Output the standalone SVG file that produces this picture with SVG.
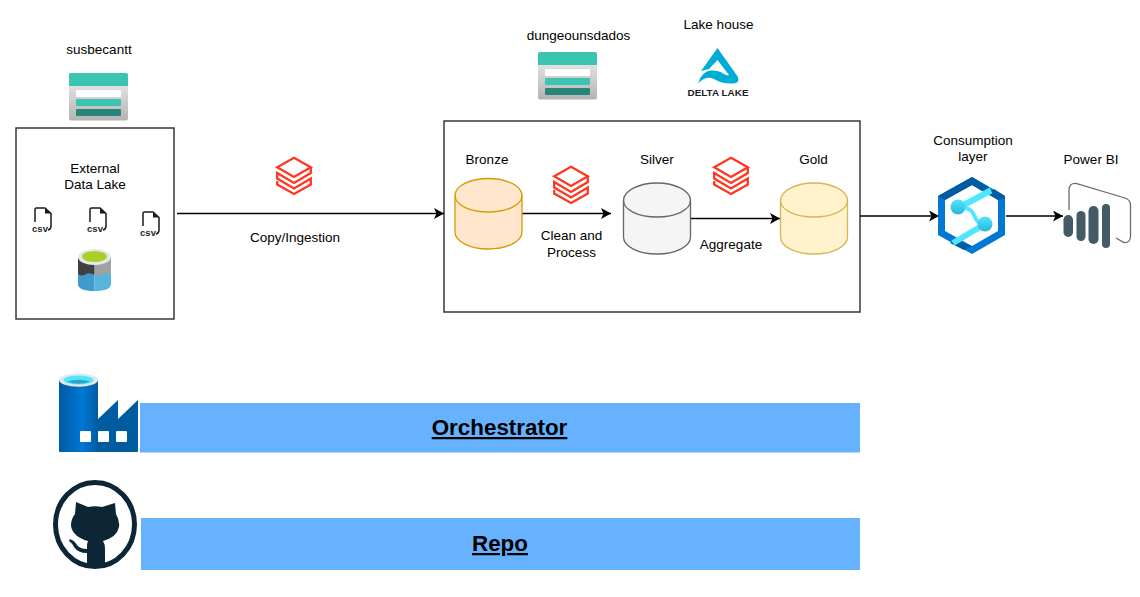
<svg xmlns="http://www.w3.org/2000/svg" width="1140" height="597" viewBox="0 0 1140 597">
<style>
text{font-family:"Liberation Sans",Arial,sans-serif;font-size:13.500px;fill:#000;text-anchor:middle}
.box{fill:#fff;stroke:#36393d;stroke-width:1.5}
.conn{fill:none;stroke:#000;stroke-width:1.4;marker-end:url(#arr)}
.bar{fill:#66b2ff}
.big{font-size:22.400px;font-weight:bold;text-decoration:underline}
.csvt{font-size:9.500px;font-weight:bold;fill:#262626}
.db{fill:none;stroke:#ff3621;stroke-width:2.3;stroke-linejoin:miter}
.cyl{stroke-width:1.3}
</style>
<defs>
<marker id="arr" markerUnits="userSpaceOnUse" markerWidth="11" markerHeight="11" refX="10" refY="5.500" orient="auto"><path d="M0 0L10 5.500L0 11L2.500 5.500Z" fill="#000"/></marker>
<linearGradient id="sg" x1="0" y1="0" x2="0" y2="1"><stop offset="0" stop-color="#f2f2f2"/><stop offset="1" stop-color="#b3b3b3"/></linearGradient>
<linearGradient id="adf" x1="0" y1="0" x2="1" y2="0"><stop offset="0" stop-color="#005ba1"/><stop offset=".6" stop-color="#0078d4"/><stop offset="1" stop-color="#005ba1"/></linearGradient>
<linearGradient id="syn" x1="0" y1="0" x2="0" y2="1"><stop offset="0" stop-color="#50e6ff"/><stop offset="1" stop-color="#29b6d8"/></linearGradient>
<symbol id="storage" overflow="visible">
<rect x="0" y="0" width="59" height="47.500" rx="2" fill="url(#sg)"/>
<path d="M0 13V2a2 2 0 0 1 2-2H57a2 2 0 0 1 2 2V13Z" fill="#3bc4b0"/>
<rect x="7" y="17" width="45" height="7" fill="#fff"/>
<rect x="7" y="26" width="45" height="7" rx="1" fill="#3bc4b0"/>
<rect x="7" y="36" width="45" height="7" rx="1" fill="#27857a"/>
</symbol>
<symbol id="dbx" overflow="visible">
<path class="db" d="M18 .8L34.800 10.300L18 20L1.200 10.300Z"/>
<path class="db" d="M34.800 10.300V16L18 26L1.200 16V21.500L18 31.500L34.800 21.500V27.500L18 37L1.200 27.500V24"/>
</symbol>
<symbol id="csv" overflow="visible">
<path d="M3 15V2.500Q3 1 4.500 1H13L19 6.500V19Q19 22.500 16 23" fill="none" stroke="#1a1a1a" stroke-width="1.500"/>
<path d="M13 1L19 6.500H13Z" fill="#1a1a1a"/>
<text class="csvt" x="8" y="24.500">csv</text>
</symbol>
</defs>

<g id="external-lake">
<rect class="box" x="16" y="128" width="158" height="191"/>
<text x="95" y="173">External</text>
<text x="95" y="189">Data Lake</text>
<use href="#csv" x="32" y="207"/>
<use href="#csv" x="87" y="207"/>
<use href="#csv" x="140" y="211"/>
<g id="datalake-icon">
<path d="M78 257V284Q78 291 94.500 291V257Z" fill="#3f9bcb"/>
<path d="M94.500 257V291Q111 291 111 284V257Z" fill="#59b4d9"/>
<path d="M78 257V274Q82 277 86 274Q90 272 94.500 275V257Z" fill="#404040"/>
<path d="M94.500 257V275Q99 277 103 274Q107 272 111 274V257Z" fill="#a0a1a3"/>
<ellipse cx="94.500" cy="257" rx="16.500" ry="8" fill="#e8e8e8"/>
<ellipse cx="94.500" cy="256.500" rx="12.500" ry="5.500" fill="#a8cf2a"/>
</g>
</g>
<g id="susbecantt">
<text x="99" y="54">susbecantt</text>
<use href="#storage" x="69" y="73"/>
</g>

<g id="copy-ingestion">
<use href="#dbx" x="276" y="157"/>
<text x="295" y="242">Copy/Ingestion</text>
</g>

<g id="lakehouse">
<rect class="box" x="444" y="121" width="416" height="191"/>
</g>

<g id="connectors">
<path class="conn" d="M177 213.500H444"/>
<path class="conn" d="M522 213.500H611"/>
<path class="conn" d="M691 218.500H780"/>
<path class="conn" d="M860 216H939"/>
<path class="conn" d="M1006 216H1063"/>
</g>

<g id="dungeounsdados">
<text x="578.500" y="40">dungeounsdados</text>
<use href="#storage" x="538" y="52"/>
</g>
<g id="delta-lake">
<text x="718.500" y="29">Lake house</text>
<path fill="#00add4" d="M717.500 48L738 77Q740 83 733 83.500Q722 84 714 79Q706 75 698 83.500Q702 71 711 70.500Q719 70 724 74Q727 76 729 75L717.500 60L709 69L701 71Z"/>
<text x="718" y="95.500" style="font-size:9.500px;font-weight:bold;fill:#222" textLength="61" lengthAdjust="spacingAndGlyphs">DELTA LAKE</text>
</g>

<g id="bronze">
<text x="487" y="164">Bronze</text>
<path class="cyl" d="M455 195.500V232C455 241.500 470 249 488.500 249S522 241.500 522 232V195.500C522 186 507 178.500 488.500 178.500S455 186 455 195.500Z" fill="#ffe6cc" stroke="#d79b00"/>
<path class="cyl" d="M455 195.500C455 205 470 212 488.500 212S522 205 522 195.500" fill="none" stroke="#d79b00"/>
</g>
<g id="clean">
<use href="#dbx" x="553" y="166"/>
<text x="571.500" y="240">Clean and</text>
<text x="571.500" y="257">Process</text>
</g>
<g id="silver">
<text x="657" y="164">Silver</text>
<path class="cyl" d="M623.500 200.500V237C623.500 246.500 638.500 254 657 254S690.500 246.500 690.500 237V200.500C690.500 191 675.500 183 657 183S623.500 191 623.500 200.500Z" fill="#f5f5f5" stroke="#666"/>
<path class="cyl" d="M623.500 200.500C623.500 210 638.500 217 657 217S690.500 210 690.500 200.500" fill="none" stroke="#666"/>
</g>
<g id="aggregate">
<use href="#dbx" x="713" y="157"/>
<text x="731" y="249">Aggregate</text>
</g>
<g id="gold">
<text x="813.500" y="164">Gold</text>
<path class="cyl" d="M780.500 200.500V237C780.500 246.500 795.500 254 814 254S847.500 246.500 847.500 237V200.500C847.500 191 832.500 183 814 183S780.500 191 780.500 200.500Z" fill="#fff2cc" stroke="#d6b656"/>
<path class="cyl" d="M780.500 200.500C780.500 210 795.500 217 814 217S847.500 210 847.500 200.500" fill="none" stroke="#d6b656"/>
</g>

<g id="synapse">
<text x="973" y="145">Consumption</text>
<text x="973" y="161">layer</text>
<path fill="#0078d4" fill-rule="evenodd" d="M972 177L1005 196V235L972 254L938 235V196ZM972 185L945 200V231L972 246L998 231V200Z"/>
<path fill="#005ba1" d="M938 196L972 177L989 187L982 191L972 185L945 200L941 198Z"/>
<path fill="#005ba1" d="M994 189L1005 196L1005 199L998 200L988 194Z"/>
<path fill="#005ba1" d="M956 240L950 243L964 250L972 246Z"/>
<path d="M991 190.500L958 208" fill="none" stroke="#50e6ff" stroke-width="6"/>
<path d="M985 224L953 243" fill="none" stroke="#50e6ff" stroke-width="6"/>
<path d="M958 207Q971 207 974 215Q977 224 985 224" fill="none" stroke="#50e6ff" stroke-width="4"/>
<circle cx="958" cy="207" r="7.500" fill="url(#syn)"/>
<circle cx="985" cy="224" r="7.500" fill="url(#syn)"/>
</g>

<g id="powerbi">
<text x="1091" y="164">Power BI</text>
<path d="M1069 210V190Q1069 183 1076 183.500L1125 198Q1130.500 200 1130.500 205V236Q1130.500 243 1124 242.500L1116 238" fill="none" stroke="#6b6b6b" stroke-width="1.300"/>
<rect x="1063.500" y="215" width="9.500" height="22" rx="4.700" fill="#445a64"/>
<rect x="1076.500" y="211" width="9" height="30" rx="4.500" fill="#445a64"/>
<rect x="1088.500" y="206" width="10" height="38" rx="5" fill="#445a64"/>
<rect x="1102" y="204" width="8" height="44" rx="4" fill="#445a64"/>
</g>

<g id="orchestrator">
<rect class="bar" x="140" y="403" width="720" height="49.500"/>
<text class="big" x="499.500" y="435">Orchestrator</text>
<g id="adf-icon">
<path d="M59 380H98V452H60Q59 452 59 451Z" fill="url(#adf)"/>
<path d="M98 419L118 400V419L138 400V451Q138 452 137 452H98Z" fill="#005ba1"/>
<ellipse cx="78.500" cy="380" rx="19.500" ry="6.800" fill="#e8e8e8"/>
<ellipse cx="78.500" cy="380" rx="15" ry="4.500" fill="#50e6ff"/>
<path d="M67 381.500Q78.500 378 90 381.500Q78.500 386 67 381.500Z" fill="#2fa4c4"/>
<rect x="80" y="431" width="11" height="11" rx="1" fill="#fff"/>
<rect x="98" y="431" width="11" height="11" rx="1" fill="#fff"/>
<rect x="116" y="431" width="11" height="11" rx="1" fill="#fff"/>
</g>
</g>

<g id="repo">
<rect class="bar" x="141" y="518" width="719" height="52"/>
<text class="big" x="500" y="551">Repo</text>
<g id="github-icon">
<ellipse cx="95" cy="524.500" rx="39.500" ry="42" fill="#fff" stroke="#0d2636" stroke-width="5"/>
<path fill="#0d2636" d="M76 502L88 507Q95 505.500 102 507L115 503L116 514Q120 521 119 527Q117 537 103 541Q105 544 105 549V568H87V553Q78 553 74 547Q72 543 69 541L70 539Q75 541 77 545Q80 549 87 549V547Q87 543 88 541Q73 537 71 526Q71 519 75 514Z"/>
</g>
</g>
</svg>
